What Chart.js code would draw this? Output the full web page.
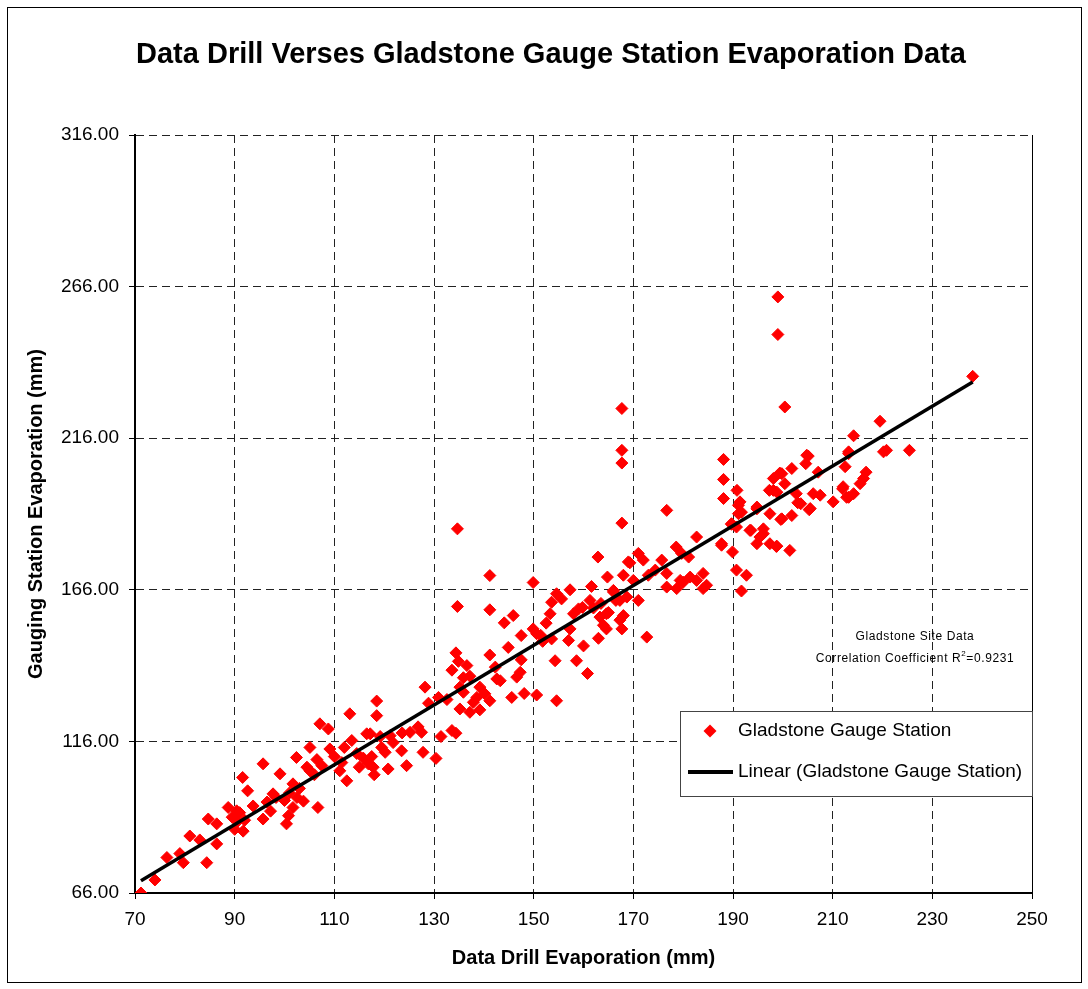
<!DOCTYPE html>
<html>
<head>
<meta charset="utf-8">
<script src="https://cdn.jsdelivr.net/npm/chart.js@4.4.0/dist/chart.umd.min.js"></script>
<style>
  body { margin: 0; background: #fff; }
</style>
</head>
<body>
<canvas id="myChart" width="1088" height="989"></canvas>
<script>
//Data
var drillX = [
  71.2, 74.0, 76.4, 79.0, 79.7, 81.0, 83.0, 84.4, 84.7, 86.4, 86.4, 88.7, 90.4, 91.6, 92.6, 91.7, 93.7, 95.7, 95.7, 97.7,
  99.1, 100.4, 101.7, 101.7, 102.4, 103.8, 105.1, 105.1, 106.7, 107.1, 108.8, 109.1, 111.1, 112.5, 113.1, 113.5, 116.5, 116.8, 118.5, 118.5,
  89.5, 90.5, 91.0, 92.0, 90.0, 96.5, 97.2, 98.3, 100.0, 101.0, 102.5, 103.0, 100.8, 104.5, 106.0, 107.5, 106.5, 110.0, 111.5, 112.0,
  114.5, 115.0, 115.8, 117.5, 118.0, 119.5,
  117.2, 119.2, 121.2, 121.8, 123.6, 125.2, 126.8, 127.5, 131.4, 133.6, 134.4, 120.2, 123.5, 127.8, 130.4, 117.8, 120.8, 124.5,
  128.2, 128.9, 130.9, 132.6, 133.6, 134.9, 134.4, 136.6, 137.2, 135.9, 135.2, 135.9, 139.2, 140.2, 141.2, 138.6, 137.9, 135.2, 137.2, 139.2,
  142.6, 142.3, 143.3, 146.6, 147.3, 145.6, 148.1, 150.6, 154.6, 154.3, 158.6, 160.8,
  134.7, 141.2, 134.7, 141.2, 144.1, 145.9, 147.5, 149.9, 144.9, 141.2, 147.5, 149.9, 150.6, 151.4, 153.6, 153.3, 153.6, 154.6, 155.6, 157.3,
  157.3, 157.0, 158.0, 159.0, 159.8, 161.3, 161.6, 162.9, 164.8, 163.3, 164.0, 164.6, 166.0, 152.5, 151.8, 162.0, 163.5, 165.0, 166.5, 167.3,
  163.0, 160.0,
  167.7, 167.7, 167.7, 167.7, 200.4, 176.7, 188.1, 188.1, 188.1, 190.8, 191.1, 191.7, 189.7, 190.7, 187.7, 189.9, 190.7, 192.7, 191.7, 194.8,
  193.4, 194.8, 196.1, 197.4, 198.1, 198.1, 199.8, 200.4, 201.8, 201.8, 199.8, 198.8, 201.4, 204.8, 207.1, 203.6, 205.5, 206.1, 207.5, 210.1,
  212.1, 212.5, 213.2, 212.8, 182.7, 178.6, 175.7, 171.0, 172.0, 169.3, 174.4, 176.7, 179.4, 181.4, 182.7, 184.0, 179.7, 181.1, 176.7, 178.7,
  180.0, 184.0, 184.7, 173.0, 170.0, 168.0, 169.0, 166.0, 167.3, 168.7, 171.0, 168.0, 167.7, 164.6, 172.7, 197.4,
  199.0, 199.0, 238.1, 219.5, 214.2, 220.2, 220.8, 225.4, 213.2, 216.7, 216.2, 215.5, 214.2, 213.2, 212.0, 205.1, 204.6, 199.4, 198.8, 197.3,
  202.7, 199.6, 205.3, 203.0, 194.8, 191.4, 191.1, 196.1, 195.4, 193.6, 189.7, 187.7, 198.7
];
var gaugeY = [
  66.0, 70.3, 77.7, 79.0, 76.0, 84.8, 83.5, 76.0, 90.4, 88.8, 82.2, 94.2, 93.1, 104.1, 99.7, 86.4, 94.7, 108.6, 90.4, 98.7,
  105.3, 88.8, 102.0, 94.2, 110.7, 96.3, 114.0, 106.3, 94.2, 121.8, 120.1, 113.5, 106.3, 103.0, 125.1, 116.3, 118.5, 108.6, 129.3, 124.5,
  91.0, 89.5, 92.5, 90.0, 87.0, 96.0, 93.0, 97.5, 96.5, 99.0, 97.5, 100.5, 91.5, 107.5, 105.0, 108.0, 110.0, 111.0, 109.0, 114.0,
  112.0, 107.5, 110.5, 111.0, 105.0, 114.0,
  118.5, 117.6, 117.9, 115.6, 118.8, 119.0, 120.8, 119.0, 117.6, 119.6, 118.7, 112.4, 112.9, 112.4, 110.4, 107.5, 106.9, 108.0,
  133.9, 128.6, 130.5, 129.8, 139.5, 142.4, 145.2, 141.0, 137.5, 137.0, 133.9, 132.2, 133.9, 131.7, 129.4, 130.5, 128.9, 126.7, 125.6, 126.4,
  136.6, 140.5, 136.0, 137.2, 138.8, 130.5, 131.8, 131.3, 129.4, 142.6, 142.6, 138.4,
  186.1, 170.7, 160.5, 159.4, 155.1, 157.5, 150.9, 168.4, 147.0, 144.5, 142.9, 153.1, 151.5, 151.0, 149.8, 158.1, 161.9, 164.7, 163.0, 166.0,
  153.1, 149.3, 158.1, 159.7, 160.2, 162.5, 167.1, 176.8, 170.2, 157.0, 154.3, 153.1, 165.3, 155.0, 149.0, 160.0, 161.5, 158.5, 162.5, 156.0,
  150.0, 147.5,
  225.8, 212.0, 207.8, 188.0, 226.3, 192.2, 209.0, 202.4, 196.1, 198.8, 193.9, 191.6, 187.8, 186.7, 181.2, 178.5, 172.5, 170.8, 165.6, 193.3,
  185.6, 181.2, 184.5, 191.1, 198.8, 202.7, 204.3, 201.0, 206.0, 190.5, 189.4, 180.4, 179.0, 210.4, 204.8, 194.4, 192.8, 197.7, 197.2, 195.0,
  200.0, 206.6, 211.5, 196.5, 183.4, 180.1, 175.8, 178.0, 175.8, 174.9, 172.5, 171.4, 169.1, 170.2, 169.1, 171.4, 178.0, 176.8, 166.9, 166.4,
  168.5, 166.4, 167.5, 170.8, 169.1, 170.8, 175.2, 165.8, 162.5, 163.6, 162.5, 157.5, 153.1, 158.1, 150.4, 181.2,
  262.6, 250.2, 236.4, 221.6, 216.8, 211.5, 212.0, 212.0, 210.9, 204.8, 202.7, 201.0, 197.7, 196.5, 199.3, 210.1, 207.6, 204.5, 198.2, 198.8,
  197.7, 189.2, 192.4, 194.7, 192.7, 195.0, 191.1, 186.1, 183.4, 185.6, 187.6, 180.7, 180.3
];
//Linear trend line end points
var trendX = [71.2, 238.1];
var trendY = [70.0, 234.5];
//Axis ticks
var xMin = 70, xMax = 250, xStep = 20;
var yMin = 66, yMax = 316, yStep = 50;

var seriesName = 'Gladstone Gauge Station';
var trendName = 'Linear (Gladstone Gauge Station)';
var chartTitle = 'Data Drill Verses Gladstone Gauge Station Evaporation Data';
var noteLine1 = 'Gladstone Site Data';
var noteLine2 = 'Correlation Coefficient R';
var noteR2 = '=0.9231';

var FONT = '"Liberation Sans", Arial, sans-serif';
Chart.defaults.font.family = FONT;
Chart.defaults.color = '#000';

var points = drillX.map(function (x, i) { return { x: x, y: gaugeY[i] }; });
var trend = trendX.map(function (x, i) { return { x: x, y: trendY[i] }; });

//Frame, title, note and legend
var decor = {
  id: 'decor',
  beforeDraw: function (chart) {
    var ctx = chart.ctx;
    ctx.save();
    ctx.fillStyle = '#fff';
    ctx.fillRect(0, 0, chart.width, chart.height);
    ctx.strokeStyle = '#000';
    ctx.lineWidth = 1;
    ctx.strokeRect(7.5, 7.5, 1074, 975);
    ctx.fillStyle = '#000';
    ctx.font = 'bold 29px ' + FONT;
    ctx.textAlign = 'center';
    ctx.textBaseline = 'alphabetic';
    ctx.fillText(chartTitle, 551, 63);
    ctx.restore();
  },
  afterDraw: function (chart) {
    var ctx = chart.ctx;
    var a = chart.chartArea;
    ctx.save();
    //solid right edge of plot
    ctx.strokeStyle = '#000';
    ctx.lineWidth = 1;
    ctx.beginPath();
    ctx.moveTo(Math.round(a.right) + 0.5, a.top);
    ctx.lineTo(Math.round(a.right) + 0.5, a.bottom);
    ctx.stroke();

    //note
    ctx.fillStyle = '#000';
    ctx.font = '12px ' + FONT;
    ctx.letterSpacing = '0.6px';
    ctx.textBaseline = 'middle';
    ctx.textAlign = 'center';
    ctx.fillText(noteLine1, 915, 637);
    var w1 = ctx.measureText(noteLine2).width;
    ctx.font = '8px ' + FONT;
    var w2 = ctx.measureText('2').width;
    ctx.font = '12px ' + FONT;
    var w3 = ctx.measureText(noteR2).width;
    var sx = 915 - (w1 + w2 + w3) / 2;
    ctx.textAlign = 'left';
    ctx.fillText(noteLine2, sx, 659);
    ctx.font = '8px ' + FONT;
    ctx.fillText('2', sx + w1, 654);
    ctx.font = '12px ' + FONT;
    ctx.fillText(noteR2, sx + w1 + w2, 659);
    ctx.letterSpacing = '0px';

    //legend
    ctx.fillStyle = '#fff';
    ctx.fillRect(680, 711, 352, 85);
    ctx.strokeStyle = '#444';
    ctx.strokeRect(680.5, 711.5, 352, 85);
    ctx.fillStyle = '#f00';
    ctx.beginPath();
    ctx.moveTo(710, 724.5); ctx.lineTo(716.5, 731); ctx.lineTo(710, 737.5); ctx.lineTo(703.5, 731);
    ctx.closePath();
    ctx.fill();
    ctx.strokeStyle = '#000';
    ctx.lineWidth = 4;
    ctx.beginPath();
    ctx.moveTo(688, 772);
    ctx.lineTo(733, 772);
    ctx.stroke();
    ctx.fillStyle = '#000';
    ctx.font = '19px ' + FONT;
    ctx.textAlign = 'left';
    ctx.textBaseline = 'middle';
    ctx.fillText(seriesName, 738, 731);
    ctx.fillText(trendName, 738, 772);
    ctx.restore();
  }
};

const ctx = document.getElementById('myChart').getContext('2d');
const myChart = new Chart(ctx, {
  type: 'scatter',
  data: {
    datasets: [{
      label: trendName,
      data: trend,
      showLine: true,
      borderColor: '#000',
      borderWidth: 3.5,
      pointRadius: 0,
      order: 0
    }, {
      label: seriesName,
      data: points,
      pointStyle: 'rectRot',
      pointRadius: 6,
      backgroundColor: '#ff0000',
      borderColor: '#ff0000',
      borderWidth: 1,
      order: 1
    }]
  },
  options: {
    responsive: false,
    animation: false,
    devicePixelRatio: 1,
    layout: { padding: { left: 0, top: 135, right: 56, bottom: 0 } },
    plugins: {
      legend: { display: false },
      title: { display: false },
      tooltip: { enabled: false }
    },
    scales: {
      x: {
        type: 'linear',
        min: xMin,
        max: xMax,
        afterFit: function (s) { s.height = 96; },
        ticks: { stepSize: xStep, padding: 9, font: { size: 19 }, color: '#000', maxRotation: 0 },
        grid: { color: '#222', lineWidth: 1, tickLength: 6, tickColor: '#000' },
        border: { color: '#000', width: 2, dash: [8, 5] },
        title: {
          display: true,
          text: 'Data Drill Evaporation (mm)',
          font: { size: 20, weight: 'bold' },
          padding: { top: 0, bottom: 19 }
        }
      },
      y: {
        type: 'linear',
        min: yMin,
        max: yMax,
        afterFit: function (s) { s.width = 135; },
        ticks: { stepSize: yStep, padding: 10, font: { size: 19 }, color: '#000',
          callback: function (v) { return v.toFixed(2); } },
        grid: { color: '#222', lineWidth: 1, tickLength: 6, tickColor: '#000' },
        border: { color: '#000', width: 2, dash: [8, 5] },
        title: {
          display: true,
          text: 'Gauging Station Evaporation (mm)',
          font: { size: 20, weight: 'bold' },
          padding: { top: 24, bottom: 0 }
        }
      }
    }
  },
  plugins: [decor]
});
</script>
</body>
</html>
